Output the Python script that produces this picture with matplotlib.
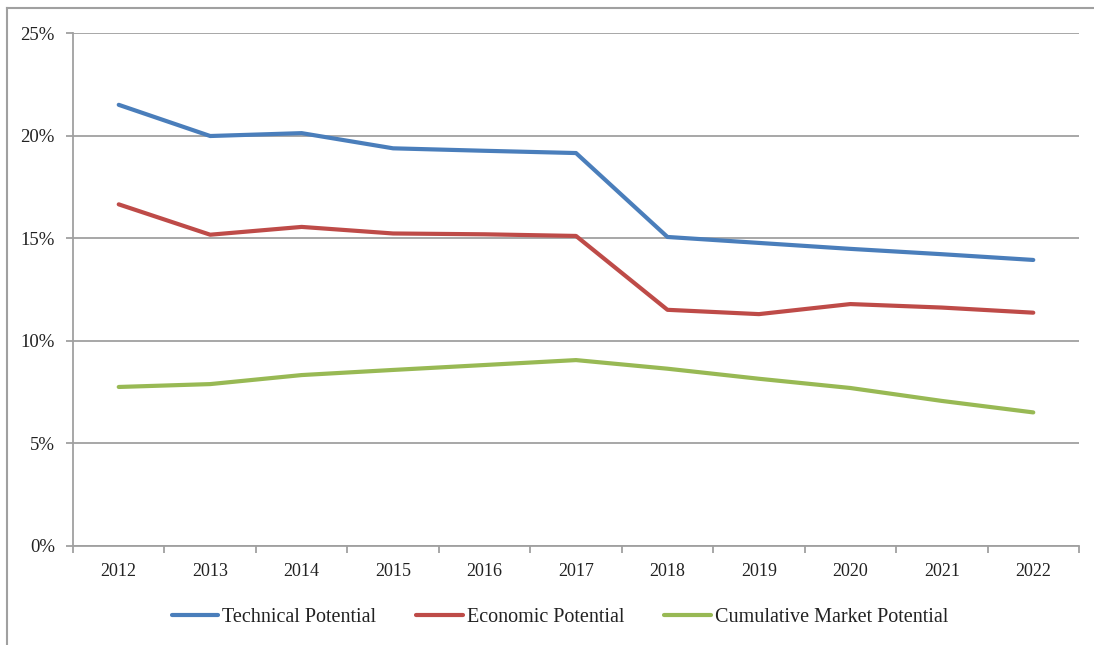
import numpy as np
import matplotlib.pyplot as plt
from matplotlib.lines import Line2D

years = ["2012", "2013", "2014", "2015", "2016", "2017", "2018", "2019", "2020", "2021", "2022"]
technical = [21.5, 19.98, 20.12, 19.38, 19.26, 19.15, 15.06, 14.77, 14.48, 14.22, 13.94]
economic = [16.65, 15.17, 15.55, 15.23, 15.19, 15.11, 11.51, 11.3, 11.79, 11.62, 11.37]
market = [7.75, 7.89, 8.33, 8.58, 8.82, 9.06, 8.64, 8.15, 7.70, 7.07, 6.51]

plt.rcParams['font.family'] = ['Liberation Serif', 'DejaVu Serif']
grey = '#A0A0A0'

fig = plt.figure(figsize=(10.94, 6.45), dpi=100)
ax = fig.add_axes([73 / 1094, 1 - 546 / 645, (1079 - 73) / 1094, (546 - 33) / 645])

x = np.arange(len(years))
ax.plot(x, technical, color='#4A7EBB', lw=3, solid_capstyle='round', label='Technical Potential')
ax.plot(x, economic, color='#BE4B48', lw=3, solid_capstyle='round', label='Economic Potential')
ax.plot(x, market, color='#98B954', lw=3, solid_capstyle='round', label='Cumulative Market Potential')

ax.set_xlim(-0.5, len(years) - 0.5)
ax.set_ylim(0, 25)
ax.set_yticks(np.arange(0, 26, 5))
ax.set_yticklabels([f"{v}%" for v in range(0, 26, 5)])
ax.yaxis.grid(True, color=grey, lw=1.3)
ax.set_axisbelow(True)

# ticks sit between categories, labels centred on categories
ax.set_xticks(np.arange(-0.5, len(years), 1))
ax.set_xticklabels([])
ax.set_xticks(x, minor=True)
ax.set_xticklabels(years, minor=True)
ax.tick_params(axis='x', which='minor', length=0, pad=12, labelsize=13, colors='#222222')
ax.tick_params(axis='x', which='major', length=5, color=grey, width=1.3)
ax.tick_params(axis='y', length=5, color=grey, width=1.3, pad=8, labelsize=13.5, labelcolor='#222222')

for s in ['top', 'right']:
    ax.spines[s].set_visible(False)
for s in ['left', 'bottom']:
    ax.spines[s].set_color(grey)
    ax.spines[s].set_linewidth(1.3)

ax.legend(loc='center', bbox_to_anchor=(0.484, -0.14), ncol=3, frameon=False,
          fontsize=14.5, handlelength=2.3, handletextpad=0.2, columnspacing=2.0,
          labelcolor='#222222')

# outer chart border
fig.add_artist(Line2D([7 / 1094, 7 / 1094], [0, 1 - 8 / 645], transform=fig.transFigure, color=grey, lw=1.5))
fig.add_artist(Line2D([7 / 1094, 1], [1 - 8 / 645, 1 - 8 / 645], transform=fig.transFigure, color=grey, lw=1.5))

fig.savefig("out.png", dpi=100)
